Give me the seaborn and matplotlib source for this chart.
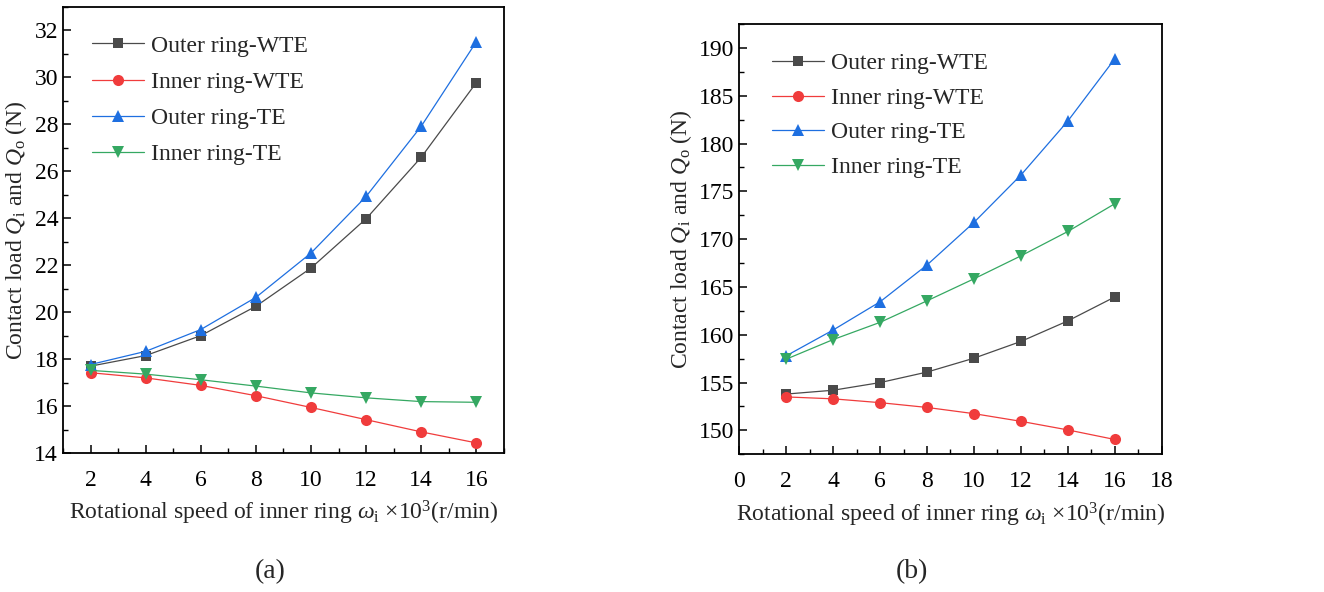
import numpy as np
import pandas as pd
import matplotlib
matplotlib.use("Agg")
import matplotlib.pyplot as plt
import seaborn as sns
from matplotlib.ticker import MultipleLocator

sns.set_theme(style="ticks")
plt.rcParams['font.family'] = ['Liberation Serif', 'DejaVu Serif']
plt.rcParams['mathtext.fontset'] = 'custom'
plt.rcParams['mathtext.rm'] = 'Liberation Serif'
plt.rcParams['mathtext.it'] = 'Liberation Serif:italic'

speed = [2, 4, 6, 8, 10, 12, 14, 16]
series_names = ["Outer ring-WTE", "Inner ring-WTE", "Outer ring-TE", "Inner ring-TE"]

a_outer_wte = [17.70, 18.15, 19.00, 20.25, 21.88, 23.98, 26.60, 29.78]
a_inner_wte = [17.42, 17.20, 16.88, 16.44, 15.94, 15.42, 14.90, 14.43]
a_outer_te = [17.77, 18.33, 19.26, 20.63, 22.52, 24.93, 27.92, 31.52]
a_inner_te = [17.52, 17.36, 17.12, 16.85, 16.56, 16.35, 16.19, 16.16]

b_outer_wte = [153.8, 154.2, 155.0, 156.1, 157.55, 159.3, 161.45, 163.95]
b_inner_wte = [153.5, 153.3, 152.9, 152.4, 151.75, 150.95, 150.05, 149.05]
b_outer_te = [157.8, 160.5, 163.45, 167.3, 171.75, 176.7, 182.35, 188.85]
b_inner_te = [157.45, 159.5, 161.3, 163.55, 165.85, 168.25, 170.8, 173.7]

colors = ["#4a4a4a", "#f03c3c", "#1e6fe0", "#35a862"]
markers = ["s", "o", "^", "v"]
msizes = [6.8, 8, 8.5, 8.5]

def long_df(vals):
    rows = []
    for name, v in zip(series_names, vals):
        for x, y in zip(speed, v):
            rows.append({"speed": x, "load": y, "series": name})
    return pd.DataFrame(rows)

df_a = long_df([a_outer_wte, a_inner_wte, a_outer_te, a_inner_te])
df_b = long_df([b_outer_wte, b_inner_wte, b_outer_te, b_inner_te])

fig = plt.figure(figsize=(13.24, 5.92), dpi=100)
ax1 = fig.add_axes([0.0476, 0.2348, 0.333, 0.7534])
ax2 = fig.add_axes([0.5584, 0.2326, 0.319, 0.7269])

tick_fs = 17
label_fs = 17

for ax, df in [(ax1, df_a), (ax2, df_b)]:
    for name, c, m, ms in zip(series_names, colors, markers, msizes):
        sub = df[df["series"] == name]
        sns.lineplot(data=sub, x="speed", y="load", ax=ax, color=c, marker=m,
                     markersize=ms, markeredgewidth=0, linewidth=0.9,
                     label=name, legend=False)
    for s in ax.spines.values():
        s.set_visible(True)
        s.set_color("black")
        s.set_linewidth(1.3)
    ax.xaxis.set_major_locator(MultipleLocator(2))
    ax.xaxis.set_minor_locator(MultipleLocator(1))
    ax.tick_params(which="both", direction="in", top=False, right=False,
                   labelsize=tick_fs, colors="black")
    ax.tick_params(axis="x", which="major", pad=12)
    ax.tick_params(which="major", length=6, width=1.1)
    ax.tick_params(which="minor", length=3.5, width=1.0)
    ax.set_xlabel(r"Rotational speed of inner ring $\omega_\mathrm{i}$ ×10$^3$(r/min)",
                  fontsize=label_fs, labelpad=6)
    ax.set_ylabel(r"Contact load $Q_\mathrm{i}$ and $Q_\mathrm{o}$ (N)",
                  fontsize=label_fs, labelpad=4)
    ax.grid(False)
    ax.set_facecolor("white")

ax1.legend(loc="upper left", frameon=False, fontsize=17, handlelength=2.2,
           handletextpad=0.3, labelspacing=0.62, borderaxespad=0.0,
           bbox_to_anchor=(0.045, 0.958))
ax2.legend(loc="upper left", frameon=False, fontsize=17, handlelength=2.2,
           handletextpad=0.3, labelspacing=0.55, borderaxespad=0.0,
           bbox_to_anchor=(0.055, 0.955))

ax1.set_xlim(1, 17)
ax1.set_ylim(14, 33)
ax1.set_xticks(speed)
ax1.yaxis.set_major_locator(MultipleLocator(2))
ax1.yaxis.set_minor_locator(MultipleLocator(1))

ax2.set_xlim(0, 18)
ax2.set_ylim(147.5, 192.5)
ax2.yaxis.set_major_locator(MultipleLocator(5))
ax2.yaxis.set_minor_locator(MultipleLocator(2.5))

fig.text(270 / 1324, 1 - 572 / 592, "(a)", ha="center", va="center", fontsize=20)
fig.text(912 / 1324, 1 - 572 / 592, "(b)", ha="center", va="center", fontsize=20)

fig.savefig("out.png", dpi=100, facecolor="white")
